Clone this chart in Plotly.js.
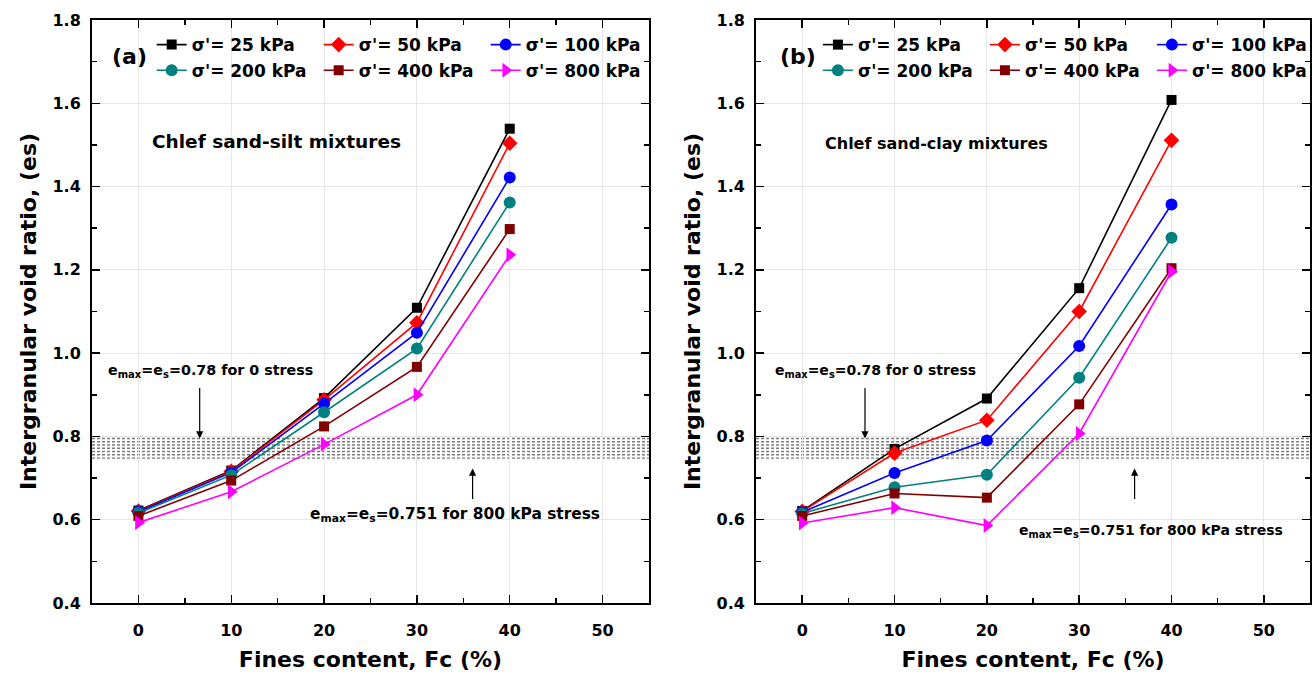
<!DOCTYPE html>
<html>
<head>
<meta charset="utf-8">
<script src="https://cdn.plot.ly/plotly-3.0.1.min.js"></script>
<style>html,body{margin:0;padding:0;background:#fff;}#chart{width:1316px;height:679px;}</style>
</head>
<body>
<div id="chart"></div>
<script>
// ---------- data ----------
const FINES = [0, 10, 20, 30, 40];
const STRESS_LABELS = ["σ'= 25 kPa", "σ'= 50 kPa", "σ'= 100 kPa", "σ'= 200 kPa", "σ'= 400 kPa", "σ'= 800 kPa"];

// (a) Chlef sand-silt mixtures
const SILT_25  = [0.622, 0.718, 0.892, 1.109, 1.539];
const SILT_50  = [0.621, 0.716, 0.888, 1.073, 1.504];
const SILT_100 = [0.619, 0.713, 0.879, 1.049, 1.422];
const SILT_200 = [0.616, 0.707, 0.858, 1.011, 1.362];
const SILT_400 = [0.609, 0.694, 0.824, 0.967, 1.298];
const SILT_800 = [0.593, 0.667, 0.781, 0.900, 1.236];

// (b) Chlef sand-clay mixtures
const CLAY_25  = [0.621, 0.770, 0.891, 1.156, 1.608];
const CLAY_50  = [0.620, 0.760, 0.839, 1.100, 1.511];
const CLAY_100 = [0.618, 0.712, 0.790, 1.017, 1.357];
const CLAY_200 = [0.615, 0.678, 0.708, 0.941, 1.277];
const CLAY_400 = [0.609, 0.663, 0.653, 0.877, 1.204];
const CLAY_800 = [0.592, 0.629, 0.586, 0.807, 1.196];

// band of e_max = e_s (0.751 .. 0.78)
const BAND_LOW = 0.748, BAND_HIGH = 0.795, BAND_LINES = 7;

// ---------- styles ----------
const COLORS  = ['#000000', '#ff0000', '#0000ff', '#008080', '#800000', '#ff00ff'];
const SYMBOLS = ['square', 'diamond', 'circle', 'circle', 'square', 'triangle-right'];
const SIZES   = [10, 12, 12, 12, 10, 13];
const FONT = '"DejaVu Sans", "Liberation Sans", Arial, sans-serif';

const siltSets = [SILT_25, SILT_50, SILT_100, SILT_200, SILT_400, SILT_800];
const claySets = [CLAY_25, CLAY_50, CLAY_100, CLAY_200, CLAY_400, CLAY_800];

const traces = [];
function addPanel(sets, xa, ya, legA, legB) {
  sets.forEach((ys, i) => {
    traces.push({
      type: 'scatter', mode: 'lines+markers',
      x: FINES, y: ys, name: STRESS_LABELS[i],
      xaxis: xa, yaxis: ya,
      legend: i < 3 ? legA : legB,
      line: {color: COLORS[i], width: 1.6},
      marker: {color: COLORS[i], symbol: SYMBOLS[i], size: SIZES[i]}
    });
  });
}
addPanel(siltSets, 'x', 'y', 'legend', 'legend2');
addPanel(claySets, 'x2', 'y2', 'legend3', 'legend4');

function xAxis(domain, anchor) {
  return {
    domain: domain, anchor: anchor, range: [-5, 55],
    tickmode: 'linear', tick0: 0, dtick: 10,
    ticks: 'inside', ticklen: 8, tickwidth: 1.5, tickcolor: '#000',
    minor: {ticks: 'inside', ticklen: 5, dtick: 5, tickwidth: 1.5, tickcolor: '#000', showgrid: false},
    showline: true, linewidth: 2, linecolor: '#000', mirror: 'allticks',
    showgrid: true, gridcolor: '#e6e6e6', gridwidth: 1, zeroline: false,
    tickfont: {family: FONT, size: 16, color: '#000', weight: 'bold'},
    ticklabelstandoff: 12,
    title: {text: 'Fines content, Fc (%)', font: {family: FONT, size: 22, color: '#000', weight: 'bold'}, standoff: 12}
  };
}
function yAxis(anchor) {
  return {
    anchor: anchor, range: [0.4, 1.8], domain: [0, 1],
    tickmode: 'linear', tick0: 0.4, dtick: 0.2, tickformat: '.1f',
    ticks: 'inside', ticklen: 8, tickwidth: 1.5, tickcolor: '#000',
    minor: {ticks: 'inside', ticklen: 5, dtick: 0.1, tickwidth: 1.5, tickcolor: '#000', showgrid: false},
    showline: true, linewidth: 2, linecolor: '#000', mirror: 'allticks',
    showgrid: true, gridcolor: '#e6e6e6', gridwidth: 1, zeroline: false,
    tickfont: {family: FONT, size: 16, color: '#000', weight: 'bold'},
    ticklabelstandoff: 6,
    title: {text: 'Intergranular void ratio, (es)', font: {family: FONT, size: 22, color: '#000', weight: 'bold'}, standoff: 10}
  };
}

function legendAt(x, y) {
  return {
    x: x, y: y, xanchor: 'left', yanchor: 'middle', orientation: 'h',
    bgcolor: 'rgba(0,0,0,0)', borderwidth: 0,
    entrywidth: 122, entrywidthmode: 'pixels',
    font: {family: FONT, size: 17, color: '#000', weight: 'bold'},
    itemclick: false, itemdoubleclick: false
  };
}

// band shapes
const shapes = [];
['x', 'x2'].forEach((xa, k) => {
  const ya = k === 0 ? 'y' : 'y2';
  for (let j = 0; j < BAND_LINES; j++) {
    const yv = BAND_LOW + (BAND_HIGH - BAND_LOW) * j / (BAND_LINES - 1);
    shapes.push({type: 'line', xref: xa + ' domain', yref: ya, x0: 0, x1: 1, y0: yv, y1: yv,
      line: {color: '#7a7a7a', width: 1.4, dash: '3px,2px'}, layer: 'below'});
  }
});

const ann = [];
function txt(xr, yr, x, y, text, size, anchor) {
  ann.push({xref: xr, yref: yr, x: x, y: y, text: text, showarrow: false, xanchor: anchor || 'left', yanchor: 'middle',
    font: {family: FONT, size: size, color: '#000', weight: 'bold'}});
}
function arrow(xr, yr, x, yTail, yHead) {
  ann.push({xref: xr, yref: yr, axref: xr, ayref: yr, x: x, y: yHead, ax: x, ay: yTail, text: '',
    showarrow: true, arrowhead: 2, arrowsize: 1.2, arrowwidth: 1.2, arrowcolor: '#000'});
}
// panel a
txt('x domain', 'y domain', 0.032, 0.937, '(a)', 22);
txt('x', 'y', 1.2, 1.508, 'Chlef sand-silt mixtures', 18.5);
txt('x', 'y', -3.5, 0.956, 'e<sub>max</sub>=e<sub>s</sub>=0.78 for 0 stress', 14.3);
txt('x', 'y', 18.3, 0.612, 'e<sub>max</sub>=e<sub>s</sub>=0.751 for 800 kPa stress', 15.4);
arrow('x', 'y', 6.6, 0.92, 0.795);
arrow('x', 'y', 36.0, 0.646, 0.723);
// panel b
txt('x2 domain', 'y2 domain', 0.04, 0.937, '(b)', 22);
txt('x2', 'y2', 2.2, 1.504, 'Chlef sand-clay mixtures', 16);
txt('x2', 'y2', -3.2, 0.956, 'e<sub>max</sub>=e<sub>s</sub>=0.78 for 0 stress', 14);
txt('x2', 'y2', 23.3, 0.572, 'e<sub>max</sub>=e<sub>s</sub>=0.751 for 800 kPa stress', 14);
arrow('x2', 'y2', 6.8, 0.92, 0.795);
arrow('x2', 'y2', 36.0, 0.646, 0.723);

const layout = {
  width: 1316, height: 679,
  margin: {l: 92, r: 6, t: 20, b: 76, autoexpand: false},
  paper_bgcolor: '#fff', plot_bgcolor: '#fff',
  font: {family: FONT, color: '#000'},
  showlegend: true,
  xaxis: xAxis([0, 0.4573], 'y'),
  yaxis: yAxis('x'),
  xaxis2: xAxis([0.5452, 1], 'y2'),
  yaxis2: yAxis('x2'),
  legend:  legendAt(0.049, 0.957),
  legend2: legendAt(0.049, 0.913),
  legend3: legendAt(0.596, 0.957),
  legend4: legendAt(0.596, 0.913),
  shapes: shapes,
  annotations: ann
};

Plotly.newPlot('chart', traces, layout, {displayModeBar: false, staticPlot: true});
</script>
</body>
</html>
